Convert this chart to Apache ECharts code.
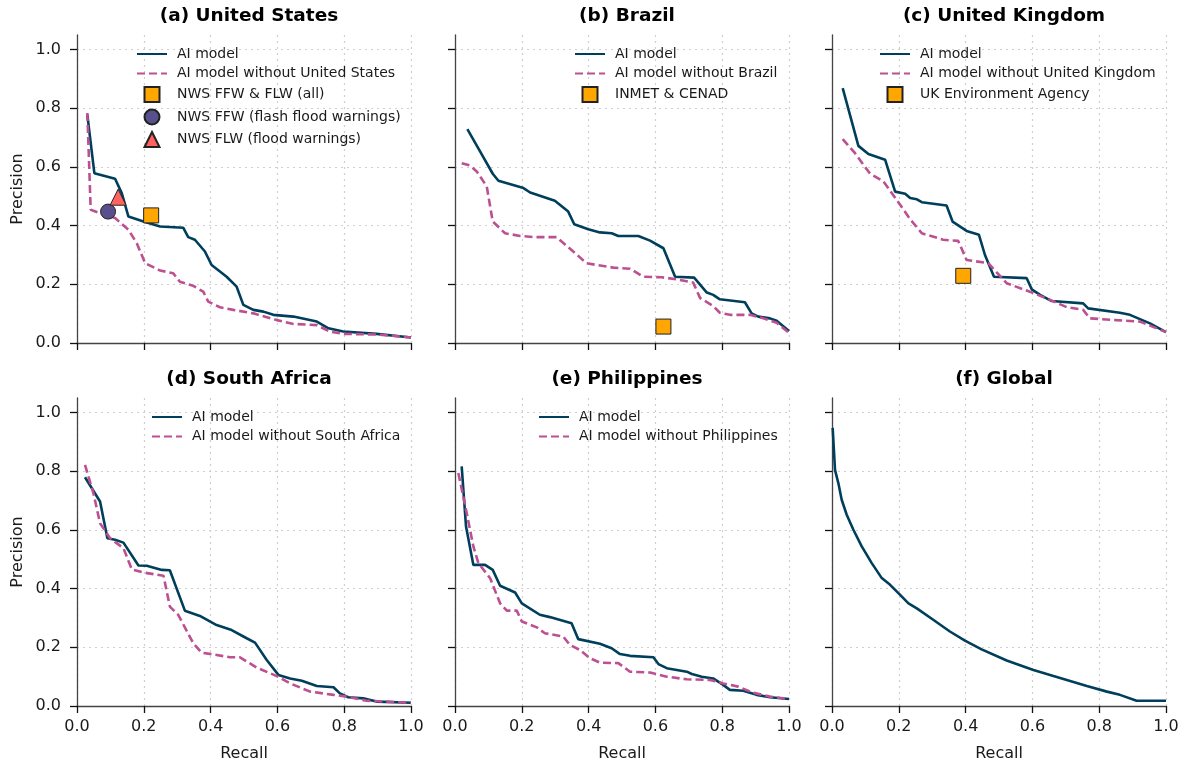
<!DOCTYPE html>
<html>
<head>
<meta charset="utf-8">
<script src="https://cdn.jsdelivr.net/npm/echarts@6/dist/echarts.min.js"></script>
<style>
  html, body { margin: 0; background: #fff; }
  #main { width: 1188px; height: 764px; }
</style>
</head>
<body>
<div id="main"></div>
<script>
// tick values (both axes)
var tickVals = [0, 0.2, 0.4, 0.6, 0.8, 1.0];

// (a) United States  [recall, precision]
var usModel = [[0.031,0.778],[0.052,0.579],[0.114,0.56],[0.134,0.511],[0.154,0.431],[0.199,0.414],[0.249,0.397],[0.318,0.393],[0.333,0.361],[0.353,0.352],[0.383,0.312],[0.403,0.266],[0.448,0.226],[0.478,0.192],[0.498,0.13],[0.528,0.113],[0.558,0.107],[0.588,0.096],[0.648,0.09],[0.718,0.073],[0.753,0.05],[0.797,0.039],[0.897,0.031],[1.0,0.019]];
var usWithout = [[0.031,0.784],[0.041,0.454],[0.069,0.443],[0.114,0.426],[0.154,0.386],[0.179,0.34],[0.204,0.272],[0.249,0.247],[0.288,0.238],[0.308,0.209],[0.348,0.195],[0.378,0.175],[0.393,0.141],[0.428,0.122],[0.468,0.113],[0.528,0.101],[0.598,0.078],[0.648,0.065],[0.718,0.061],[0.757,0.039],[0.797,0.031],[0.897,0.029],[1.0,0.019]];
var usAll = [[0.222,0.435]];
var usFFW = [[0.093,0.448]];
var usFLW = [[0.123,0.497]];

// (b) Brazil
var brModel = [[0.037,0.729],[0.075,0.653],[0.113,0.577],[0.13,0.553],[0.205,0.528],[0.225,0.513],[0.299,0.485],[0.339,0.448],[0.357,0.405],[0.399,0.388],[0.434,0.377],[0.469,0.374],[0.489,0.365],[0.549,0.365],[0.584,0.349],[0.624,0.323],[0.659,0.226],[0.716,0.223],[0.754,0.172],[0.773,0.164],[0.793,0.149],[0.868,0.139],[0.888,0.101],[0.908,0.09],[0.943,0.084],[0.963,0.076],[1.0,0.041]];
var brWithout = [[0.02,0.613],[0.045,0.605],[0.065,0.585],[0.095,0.534],[0.113,0.414],[0.15,0.374],[0.195,0.365],[0.234,0.361],[0.304,0.361],[0.354,0.312],[0.394,0.272],[0.424,0.266],[0.474,0.257],[0.524,0.253],[0.564,0.226],[0.619,0.224],[0.664,0.217],[0.713,0.206],[0.734,0.153],[0.773,0.126],[0.793,0.103],[0.823,0.096],[0.883,0.096],[0.923,0.084],[0.963,0.069],[1.0,0.035]];
var brAgency = [[0.624,0.056]];

// (c) United Kingdom
var ukModel = [[0.032,0.869],[0.079,0.672],[0.109,0.644],[0.159,0.625],[0.189,0.516],[0.219,0.509],[0.234,0.494],[0.254,0.49],[0.269,0.48],[0.343,0.469],[0.361,0.414],[0.403,0.382],[0.44,0.369],[0.458,0.3],[0.485,0.226],[0.583,0.221],[0.598,0.183],[0.623,0.164],[0.658,0.143],[0.752,0.135],[0.767,0.118],[0.862,0.103],[0.892,0.096],[0.952,0.067],[1.0,0.037]];
var ukWithout = [[0.032,0.695],[0.069,0.647],[0.114,0.577],[0.154,0.551],[0.204,0.471],[0.234,0.422],[0.269,0.374],[0.333,0.352],[0.378,0.348],[0.403,0.283],[0.468,0.272],[0.523,0.204],[0.603,0.17],[0.653,0.147],[0.703,0.122],[0.752,0.113],[0.772,0.084],[0.852,0.078],[0.922,0.073],[1.0,0.037]];
var ukAgency = [[0.393,0.229]];

// (d) South Africa
var zaModel = [[0.024,0.78],[0.069,0.697],[0.091,0.572],[0.114,0.567],[0.139,0.557],[0.184,0.479],[0.209,0.478],[0.254,0.464],[0.278,0.463],[0.323,0.325],[0.368,0.307],[0.418,0.276],[0.463,0.259],[0.508,0.231],[0.533,0.216],[0.568,0.157],[0.603,0.106],[0.638,0.094],[0.673,0.086],[0.718,0.068],[0.768,0.064],[0.787,0.043],[0.812,0.03],[0.857,0.026],[0.897,0.015],[1.0,0.011]];
var zaWithout = [[0.024,0.822],[0.049,0.726],[0.069,0.623],[0.099,0.572],[0.139,0.538],[0.164,0.466],[0.199,0.455],[0.259,0.444],[0.278,0.339],[0.303,0.311],[0.348,0.214],[0.373,0.182],[0.418,0.174],[0.458,0.166],[0.488,0.166],[0.538,0.131],[0.598,0.102],[0.638,0.077],[0.698,0.049],[0.768,0.038],[0.807,0.032],[0.867,0.018],[1.0,0.011]];

// (e) Philippines
var phModel = [[0.02,0.817],[0.033,0.612],[0.055,0.481],[0.09,0.481],[0.113,0.464],[0.135,0.41],[0.18,0.387],[0.2,0.35],[0.254,0.311],[0.284,0.303],[0.349,0.282],[0.369,0.228],[0.434,0.212],[0.469,0.197],[0.494,0.177],[0.524,0.171],[0.594,0.166],[0.609,0.143],[0.634,0.129],[0.694,0.117],[0.709,0.109],[0.739,0.1],[0.773,0.094],[0.803,0.072],[0.823,0.055],[0.863,0.052],[0.903,0.038],[0.943,0.03],[1.0,0.024]];
var phWithout = [[0.01,0.794],[0.03,0.686],[0.055,0.544],[0.07,0.487],[0.105,0.436],[0.135,0.35],[0.155,0.325],[0.185,0.325],[0.2,0.288],[0.245,0.268],[0.269,0.248],[0.324,0.237],[0.344,0.208],[0.374,0.191],[0.404,0.163],[0.434,0.148],[0.489,0.146],[0.524,0.117],[0.584,0.114],[0.634,0.1],[0.694,0.091],[0.763,0.089],[0.803,0.077],[0.848,0.066],[0.893,0.045],[0.943,0.032],[1.0,0.024]];

// (f) Global
var glModel = [[0.002,0.948],[0.009,0.805],[0.019,0.76],[0.029,0.703],[0.044,0.652],[0.064,0.601],[0.089,0.544],[0.119,0.487],[0.149,0.436],[0.174,0.413],[0.204,0.379],[0.229,0.35],[0.254,0.333],[0.303,0.294],[0.353,0.254],[0.398,0.223],[0.448,0.193],[0.523,0.155],[0.603,0.123],[0.663,0.102],[0.763,0.068],[0.823,0.049],[0.862,0.038],[0.912,0.018],[1.0,0.018]];

var NAVY = '#003f5c', PINK = '#bc5090', PURPLE = '#58508d', CORAL = '#ff6361', ORANGE = '#ffa600';

// legend icons that keep a square box
var ICONS = {
  rect: 'path://M0,0L10,0L10,10L0,10Z',
  circle: 'circle',
  triangle: 'path://M5,0L10,10L0,10Z'
};

var panels = [
  { title: '(a) United States', model: usModel, without: usWithout, country: 'United States',
    marks: [
      { name: 'NWS FFW & FLW (all)', data: usAll, symbol: 'rect', color: ORANGE },
      { name: 'NWS FFW (flash flood warnings)', data: usFFW, symbol: 'circle', color: PURPLE },
      { name: 'NWS FLW (flood warnings)', data: usFLW, symbol: 'triangle', color: CORAL }
    ], legendLeft: 136 },
  { title: '(b) Brazil', model: brModel, without: brWithout, country: 'Brazil',
    marks: [{ name: 'INMET & CENAD', data: brAgency, symbol: 'rect', color: ORANGE }], legendLeft: 574 },
  { title: '(c) United Kingdom', model: ukModel, without: ukWithout, country: 'United Kingdom',
    marks: [{ name: 'UK Environment Agency', data: ukAgency, symbol: 'rect', color: ORANGE }], legendLeft: 879 },
  { title: '(d) South Africa', model: zaModel, without: zaWithout, country: 'South Africa', marks: [], legendLeft: 151 },
  { title: '(e) Philippines', model: phModel, without: phWithout, country: 'Philippines', marks: [], legendLeft: 538 },
  { title: '(f) Global', model: glModel, without: null, marks: [] }
];

var lefts = [77, 455, 832], tops = [35, 398], W = 334, H = 308;
var font = 'DejaVu Sans';

var grids = [], xAxes = [], yAxes = [], series = [], legends = [], titles = [];

panels.forEach(function (p, i) {
  var col = i % 3, row = Math.floor(i / 3);
  grids.push({ left: lefts[col], top: tops[row], width: W, height: H });
  titles.push({
    text: p.title, left: lefts[col] + W / 2, top: tops[row] - 33, textAlign: 'center',
    textStyle: { fontFamily: font, fontSize: 18.5, fontWeight: 'bold', color: '#000' }
  });
  xAxes.push({
    gridIndex: i, type: 'value', min: 0, max: 1, interval: 0.2,
    name: row === 1 ? 'Recall' : '', nameLocation: 'middle', nameGap: 40,
    nameTextStyle: { fontFamily: font, fontSize: 16, color: '#1a1a1a' },
    axisLine: { show: true, lineStyle: { color: '#444', width: 1.3 } },
    axisTick: { show: true, length: 7, lineStyle: { color: '#111', width: 1.3 } },
    axisLabel: { show: row === 1, fontFamily: font, fontSize: 16, color: '#1a1a1a', margin: 13,
      formatter: function (v) { return v.toFixed(1); } },
    splitLine: { show: true, lineStyle: { color: '#cfcfcf', type: [2, 4], width: 1.2 } }
  });
  yAxes.push({
    gridIndex: i, type: 'value', min: 0, max: 1.05,
    name: col === 0 ? 'Precision' : '', nameLocation: 'middle', nameGap: 51,
    nameTextStyle: { fontFamily: font, fontSize: 16, color: '#1a1a1a' },
    axisLine: { show: true, lineStyle: { color: '#444', width: 1.3 } },
    axisTick: { show: true, length: 7, customValues: tickVals, lineStyle: { color: '#111', width: 1.3 } },
    axisLabel: { show: col === 0, customValues: tickVals, fontFamily: font, fontSize: 16, color: '#1a1a1a', margin: 16,
      formatter: function (v) { return v.toFixed(1); } },
    splitLine: { show: true, customValues: tickVals, lineStyle: { color: '#cfcfcf', type: [2, 4], width: 1.2 } }
  });

  var names = [{ name: 'AI model', itemStyle: { opacity: 0 } }];
  series.push({
    name: 'AI model', type: 'line', xAxisIndex: i, yAxisIndex: i, data: p.model,
    symbol: 'none', lineStyle: { color: NAVY, width: 2.6 }, itemStyle: { color: NAVY }, z: 2
  });
  if (p.without) {
    var wn = 'AI model without ' + p.country;
    names.push({ name: wn, itemStyle: { opacity: 0 } });
    series.push({
      name: wn, type: 'line', xAxisIndex: i, yAxisIndex: i, data: p.without,
      symbol: 'none', lineStyle: { color: PINK, width: 2.6, type: [8, 4] }, itemStyle: { color: PINK }, z: 3
    });
  }
  p.marks.forEach(function (m) {
    names.push({ name: m.name, icon: ICONS[m.symbol], itemStyle: { opacity: 1 } });
    series.push({
      name: m.name, type: 'scatter', xAxisIndex: i, yAxisIndex: i, data: m.data,
      symbol: m.symbol, symbolSize: m.symbol === 'triangle' ? 16 : 15,
      itemStyle: { color: m.color, borderColor: '#222', borderWidth: 1, opacity: 1 }, z: 5
    });
  });
  if (p.legendLeft) {
    legends.push({
      orient: 'vertical', left: p.legendLeft, top: tops[row] + 12, data: names, padding: 0,
      itemWidth: 30, itemHeight: 15, itemGap: 5.5, selectedMode: false,
      textStyle: { fontFamily: font, fontSize: 14, color: '#1a1a1a', padding: [0, 0, 0, 5] }
    });
  }
});

var chart = echarts.init(document.getElementById('main'));
chart.setOption({
  animation: false,
  backgroundColor: '#fff',
  title: titles,
  legend: legends,
  grid: grids,
  xAxis: xAxes,
  yAxis: yAxes,
  series: series
});
</script>
</body>
</html>
